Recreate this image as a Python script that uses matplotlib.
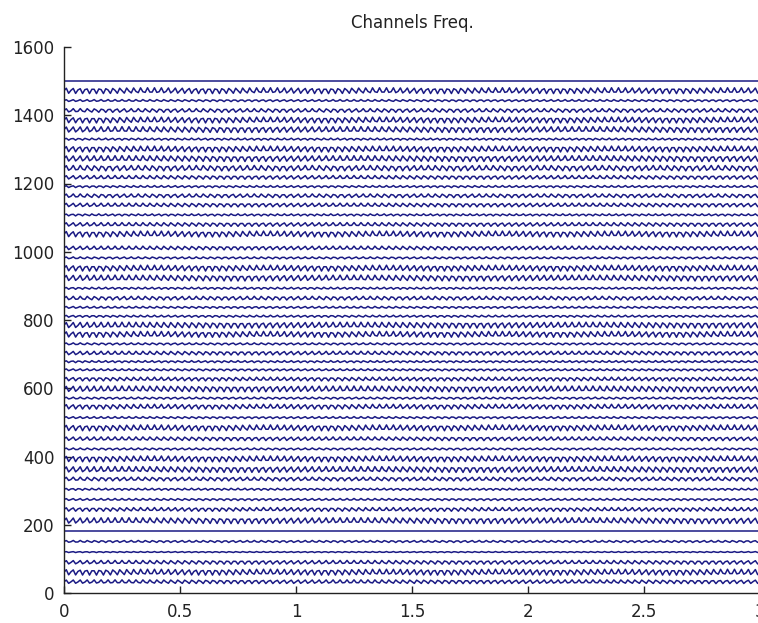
import numpy as np
import matplotlib
matplotlib.use("Agg")
import matplotlib.pyplot as plt

# ---- data ----
# channel offsets (y position of each trace), top to bottom
offsets = [1500, 1472, 1443, 1414, 1386, 1358, 1330, 1301, 1273, 1245,
           1218, 1191, 1164, 1137, 1108, 1080, 1052, 1011, 982, 952,
           923, 893, 864, 837, 811, 785, 758, 730, 703, 678,
           654, 627, 598, 571, 546, 514, 484, 452, 422, 393,
           362, 334, 304, 274, 245, 212, 181, 151, 120, 90,
           61, 33]
# apparent amplitude of each trace (data units)
amplitudes = [0.0, 8.5, 3.0, 5.5, 8.5, 8.5, 3.0, 8.5, 8.5, 8.0,
              5.5, 3.0, 5.5, 5.5, 3.0, 5.5, 8.5, 5.5, 3.0, 8.5,
              8.5, 3.0, 5.5, 3.0, 3.0, 8.5, 8.5, 3.0, 5.5, 3.0,
              3.0, 5.5, 8.5, 3.0, 7.0, 3.0, 8.5, 5.5, 3.0, 8.5,
              8.5, 5.5, 3.0, 3.0, 5.5, 8.5, 0.0, 3.0, 1.5, 5.5,
              8.5, 5.5]
# apparent oscillation frequency of each trace (cycles per x unit)
freqs = [33, 34, 33, 32, 34, 33, 35, 34, 33, 32,
         33, 34, 32, 33, 35, 33, 34, 33, 32, 34,
         33, 35, 32, 33, 34, 33, 34, 32, 33, 35,
         33, 34, 33, 32, 34, 33, 34, 33, 32, 34,
         33, 32, 35, 33, 34, 33, 33, 32, 34, 33,
         34, 33]
x_ticks = [0, 0.5, 1, 1.5, 2, 2.5, 3]
x_tick_labels = ["0", "0.5", "1", "1.5", "2", "2.5", "3"]
y_ticks = [0, 200, 400, 600, 800, 1000, 1200, 1400, 1600]
title = "Channels Freq."

# ---- figure ----
plt.rcParams["font.family"] = ["DejaVu Sans"]
fig = plt.figure(figsize=(7.58, 6.23), dpi=100)
ax = fig.add_axes([64 / 758, 30 / 623, 696 / 758, 546 / 623])

t = np.arange(0, 3.0001, 0.01)
color = "#1a1a84"
for off, amp, f in zip(offsets, amplitudes, freqs):
    ax.plot(t, off + amp * np.sin(2 * np.pi * f * t), color=color, lw=1.1)

ax.set_xlim(0, 3)
ax.set_ylim(0, 1600)
ax.set_xticks(x_ticks)
ax.set_xticklabels(x_tick_labels)
ax.set_yticks(y_ticks)
ax.tick_params(direction="in", length=5, width=1, labelsize=12,
               colors="#222222", pad=7)
ax.spines["top"].set_visible(False)
ax.spines["right"].set_visible(False)
for s in ("left", "bottom"):
    ax.spines[s].set_linewidth(1.0)
    ax.spines[s].set_color("#222222")
ax.set_title(title, fontsize=12, color="#222222", pad=14)

fig.savefig("out.png", dpi=100)
